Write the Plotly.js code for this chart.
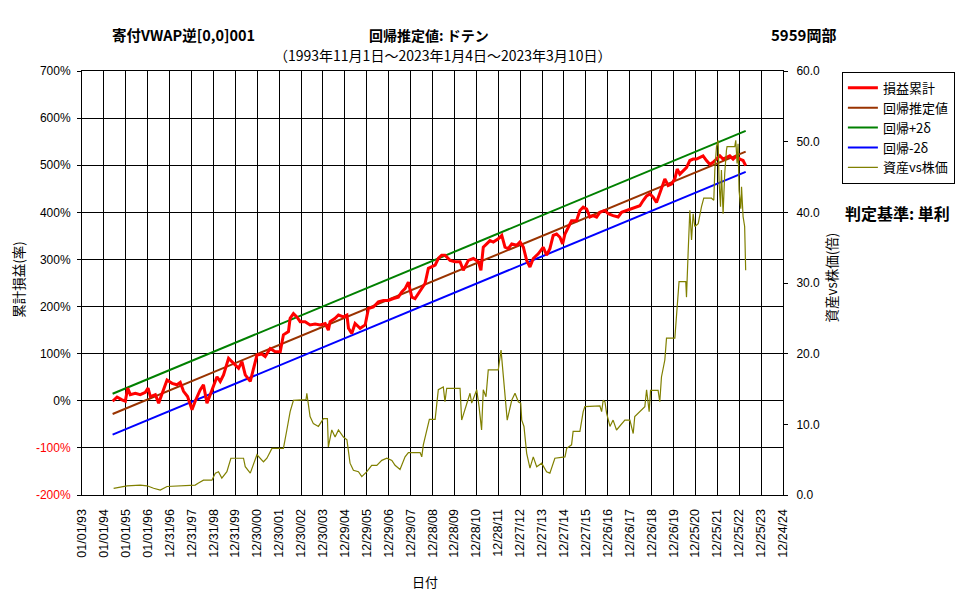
<!DOCTYPE html>
<html>
<head>
<meta charset="utf-8">
<script src="https://cdn.plot.ly/plotly-3.0.1.min.js"></script>
<style>html,body{margin:0;padding:0;background:#fff;}#chart{width:977px;height:600px;}</style>
</head>
<body>
<div id="chart"></div>
<script>
// ---- data ----
const xTickLabels = ["01/01/93","01/01/94","01/01/95","01/01/96","12/31/96","12/31/97","12/31/98","12/31/99","12/30/00","12/30/01","12/30/02","12/30/03","12/29/04","12/29/05","12/29/06","12/29/07","12/28/08","12/28/09","12/28/10","12/28/11","12/27/12","12/27/13","12/27/14","12/27/15","12/26/16","12/26/17","12/26/18","12/26/19","12/25/20","12/25/21","12/25/22","12/25/23","12/24/24"];
const yTickValues = [-200,-100,0,100,200,300,400,500,600,700];
const yTickLabels = ["-200%","-100%","0%","100%","200%","300%","400%","500%","600%","700%"];
const y2TickValues = [0,10,20,30,40,50,60];
const y2TickLabels = ["0.0","10.0","20.0","30.0","40.0","50.0","60.0"];

const seriesNames = ["損益累計","回帰推定値","回帰+2δ","回帰-2δ","資産vs株価"];

const pnlDates = ["1994-05-26","1994-08-08","1994-10-30","1994-12-24","1995-02-02","1995-03-16","1995-06-08","1995-08-30","1995-11-22","1996-01-07","1996-02-14","1996-05-07","1996-07-01","1996-08-26","1996-11-18","1997-02-10","1997-05-02","1997-06-26","1997-08-20","1997-10-26","1998-01-08","1998-03-02","1998-05-24","1998-07-18","1998-09-14","1998-11-08","1999-01-03","1999-02-28","1999-04-23","1999-06-17","1999-09-09","1999-11-04","1999-12-29","2000-02-23","2000-04-19","2000-06-13","2000-09-05","2000-10-29","2000-12-25","2001-03-17","2001-05-11","2001-08-03","2001-10-25","2002-01-17","2002-03-11","2002-06-03","2002-07-01","2002-08-25","2002-10-21","2002-12-15","2003-03-07","2003-05-29","2003-08-21","2003-11-13","2004-02-05","2004-03-29","2004-04-27","2004-07-19","2004-09-13","2004-12-05","2005-02-01","2005-02-27","2005-04-23","2005-06-17","2005-09-09","2005-12-02","2006-01-26","2006-04-18","2006-07-10","2006-10-02","2006-12-24","2007-03-16","2007-06-08","2007-08-04","2007-09-28","2007-11-22","2008-01-18","2008-03-12","2008-05-06","2008-07-02","2008-08-26","2008-10-20","2008-12-16","2009-02-10","2009-04-04","2009-05-30","2009-07-24","2009-10-16","2010-01-08","2010-04-01","2010-05-25","2010-08-17","2010-11-09","2011-02-01","2011-03-15","2011-04-23","2011-06-19","2011-08-13","2011-10-07","2011-12-29","2012-02-25","2012-04-19","2012-06-13","2012-08-09","2012-11-01","2012-12-25","2013-02-19","2013-04-15","2013-06-09","2013-08-03","2013-10-25","2014-01-17","2014-03-13","2014-05-07","2014-07-01","2014-08-27","2014-10-21","2014-12-05","2015-01-13","2015-03-07","2015-05-03","2015-07-25","2015-09-19","2015-11-13","2016-01-09","2016-03-03","2016-04-27","2016-06-23","2016-08-17","2016-11-09","2017-01-03","2017-03-25","2017-06-17","2017-08-13","2017-11-05","2018-01-28","2018-04-20","2018-06-14","2018-08-08","2018-10-04","2018-11-28","2019-01-22","2019-03-18","2019-05-12","2019-07-06","2019-08-04","2019-09-28","2019-11-24","2020-01-18","2020-02-26","2020-04-10","2020-06-04","2020-07-30","2020-09-24","2020-11-18","2021-01-14","2021-03-08","2021-05-02","2021-06-28","2021-08-22","2021-10-16","2021-12-12","2022-02-06","2022-04-01","2022-05-27","2022-07-21","2022-09-14","2022-11-10","2023-01-04","2023-02-28","2023-04-12"];
const pnlValues = [-1,8,2,-1,27,13,16,13,18,27,9,13,-5,13,44,37,34,39,20,9,-19,-1,23,34,-5,13,34,51,41,55,90,83,76,69,83,55,41,69,97,99,94,111,104,104,140,147,175,185,178,168,168,161,163,161,164,150,168,175,182,178,182,154,143,164,154,161,196,199,210,213,213,217,220,231,238,252,220,217,228,238,249,281,284,288,302,309,309,298,295,295,277,298,302,295,277,326,333,340,337,344,351,326,323,333,330,337,326,298,284,302,312,326,309,323,351,354,347,333,354,368,382,382,404,411,407,390,393,390,400,404,397,393,390,400,404,407,411,414,425,435,439,432,421,439,460,471,457,460,471,492,481,488,495,510,513,513,516,520,510,502,506,513,520,513,516,520,513,520,513,510,499];

const regDates = ["1994-05-26","2023-04-12"];
const regValues = [-28, 529];
const upperValues = [15, 573];
const lowerValues = [-72, 486];

const ratioDates = ["1994-06-12","1995-01-22","1995-08-30","1995-12-20","1996-04-08","1996-07-28","1996-11-18","1997-06-26","1998-03-02","1998-04-26","1998-07-18","1998-12-06","1999-02-01","1999-03-25","1999-05-20","1999-08-12","1999-10-18","2000-05-15","2000-06-13","2000-09-05","2000-10-29","2000-12-25","2001-04-13","2001-06-09","2001-09-01","2002-03-11","2002-05-07","2002-07-01","2002-08-25","2003-03-23","2003-04-05","2003-05-01","2003-05-29","2003-07-23","2003-10-15","2004-01-07","2004-03-13","2004-03-29","2004-05-25","2004-07-19","2004-09-13","2004-12-05","2005-02-01","2005-03-25","2005-05-20","2005-08-12","2005-10-07","2005-12-30","2006-03-21","2006-06-14","2006-09-05","2006-11-28","2007-02-20","2007-04-14","2007-07-06","2007-09-28","2007-11-22","2008-06-04","2008-07-02","2008-07-28","2008-09-24","2008-11-06","2009-02-10","2009-04-04","2009-06-26","2009-07-24","2009-08-22","2010-04-01","2010-04-28","2010-06-22","2010-09-14","2010-10-12","2011-01-04","2011-02-12","2011-03-26","2011-04-23","2011-06-07","2011-07-15","2011-12-29","2012-02-13","2012-03-21","2012-05-05","2012-05-26","2012-08-09","2012-10-03","2012-11-27","2013-01-06","2013-01-23","2013-03-01","2013-04-15","2013-06-09","2013-08-03","2013-09-29","2013-12-21","2014-03-13","2014-05-07","2014-07-29","2015-01-13","2015-02-11","2015-05-03","2015-05-29","2015-09-19","2015-11-13","2015-12-11","2016-08-17","2016-09-15","2016-10-11","2016-11-09","2016-12-07","2017-02-01","2017-03-25","2017-05-21","2017-07-15","2017-10-07","2017-12-30","2018-02-23","2018-03-21","2018-05-15","2018-09-05","2018-10-04","2018-11-16","2018-12-09","2019-04-14","2019-05-12","2019-06-09","2019-08-04","2019-09-01","2020-01-18","2020-02-15","2020-03-12","2020-03-28","2020-07-18","2020-07-30","2020-08-26","2020-09-24","2020-10-22","2020-11-18","2020-12-16","2021-02-10","2021-04-06","2021-05-14","2021-09-20","2021-10-28","2021-11-14","2021-12-12","2022-01-08","2022-01-25","2022-02-17","2022-03-04","2022-04-01","2022-04-28","2022-05-27","2022-06-06","2022-10-12","2022-10-29","2022-11-20","2022-12-06","2022-12-23","2023-01-21","2023-02-02","2023-02-28","2023-03-26","2023-04-12"];
const ratioValues = [0.95,1.3,1.4,1.3,0.95,0.7,1.2,1.3,1.4,1.7,2.1,2.1,3.1,3.3,2.4,3.3,5.2,5.2,4.0,3.1,4.5,5.7,4.7,5.2,6.6,6.6,9.2,11.8,13.4,13.5,14.4,13.0,11.1,10.1,9.7,10.8,10.8,6.8,9.2,8.2,9.2,8.2,7.8,4.5,3.5,3.3,2.6,3.3,4.2,4.2,4.9,5.2,4.9,4.2,3.6,5.4,6.0,6.0,5.4,7.1,9.2,10.7,10.7,14.9,15.3,13.2,15.1,15.1,10.6,12.0,14.4,13.0,14.9,12.5,9.2,14.9,13.9,17.7,17.7,20.5,17.2,13.4,10.6,13.4,14.4,13.2,13.0,10.6,9.7,5.9,3.8,5.4,4.0,4.5,3.3,3.1,5.2,5.4,6.6,7.1,9.0,9.0,11.8,12.5,12.6,11.8,13.4,13.2,11.6,9.7,10.6,9.2,9.7,10.6,10.6,8.7,11.1,11.6,12.5,14.9,11.8,14.8,14.8,13.2,16.7,19.1,22.2,22.2,25.7,29.0,30.2,30.2,28.0,34.2,40.3,36.1,39.8,38.0,38.4,40.8,42.0,42.0,41.7,46.0,49.3,50.2,44.1,40.8,46.0,39.8,45.5,48.8,49.3,49.3,50.2,46.9,49.7,43.1,40.5,43.6,39.4,38.0,31.8];

// ---- helpers ----
function tickToDate(s){
  const p = s.split("/");
  const yy = parseInt(p[2],10);
  const yyyy = yy < 50 ? 2000 + yy : 1900 + yy;
  return yyyy + "-" + p[0] + "-" + p[1];
}
const xTickVals = xTickLabels.map(tickToDate);
const yTickText = yTickLabels.map((t,i)=> yTickValues[i] < 0 ? '<span style="color:#ff0000">'+t+'</span>' : t);

const FONT = "'Liberation Sans', Arial, 'Noto Sans CJK JP', sans-serif";
const JFONT = "'Noto Sans CJK JP', 'Liberation Sans', sans-serif";

const traces = [
  {x: regDates, y: upperValues, name: seriesNames[2], type:'scatter', mode:'lines', line:{color:'#008000', width:2}, legendrank:3},
  {x: regDates, y: regValues, name: seriesNames[1], type:'scatter', mode:'lines', line:{color:'#993300', width:2}, legendrank:2},
  {x: regDates, y: lowerValues, name: seriesNames[3], type:'scatter', mode:'lines', line:{color:'#0000ff', width:2}, legendrank:4},
  {x: pnlDates, y: pnlValues, name: seriesNames[0], type:'scatter', mode:'lines', line:{color:'#ff0000', width:3}, legendrank:1},
  {x: ratioDates, y: ratioValues, name: seriesNames[4], type:'scatter', mode:'lines', line:{color:'#808000', width:1.2}, yaxis:'y2', legendrank:5}
];

const layout = {
  width: 977, height: 600,
  margin: {l: 82, r: 194, t: 71, b: 105},
  paper_bgcolor: '#ffffff', plot_bgcolor: '#ffffff',
  font: {family: FONT, size: 12, color: '#000'},
  showlegend: true,
  legend: {x: 1.084, y: 0.998, xanchor:'left', yanchor:'top', bordercolor:'#000', borderwidth:1, bgcolor:'#fff',
           font:{family: JFONT, size: 13}, tracegroupgap: 0, itemwidth: 30},
  xaxis: {
    type: 'date', range: ['1993-01-01','2024-12-24'],
    tickmode: 'array', tickvals: xTickVals, ticktext: xTickLabels, tickangle: -90,
    showgrid: true, gridcolor: '#000', gridwidth: 1,
    showline: true, linecolor: '#000', linewidth: 1, mirror: true,
    ticks: '', ticklabelstandoff: 8, tickfont: {size: 12.5},
    zeroline: false
  },
  yaxis: {
    range: [-200, 700], tickmode:'array', tickvals: yTickValues, ticktext: yTickText,
    showgrid: true, gridcolor: '#000', gridwidth: 1,
    showline: true, linecolor: '#000', linewidth: 1,
    ticks: 'outside', ticklen: 4, tickcolor:'#000', ticklabelstandoff: 4,
    zeroline: false, tickfont:{size:12}
  },
  yaxis2: {
    overlaying: 'y', side: 'right', range: [0, 60],
    tickmode:'array', tickvals: y2TickValues, ticktext: y2TickLabels,
    showgrid: false, showline: true, linecolor:'#000', linewidth:1,
    ticks:'outside', ticklen: 4, tickcolor:'#000', ticklabelstandoff: 6,
    zeroline: false, tickfont:{size:12}
  },
  annotations: [
    {text:'<b>寄付VWAP逆[0,0]001</b>', xref:'paper', yref:'paper', x:0.0406, y:1.085, xanchor:'left', yanchor:'middle', showarrow:false, font:{family:JFONT, size:14.5}},
    {text:'<b>回帰推定値: ドテン</b>', xref:'paper', yref:'paper', x:0.407, y:1.085, xanchor:'left', yanchor:'middle', showarrow:false, font:{family:JFONT, size:14}},
    {text:'<b>5959岡部</b>', xref:'paper', yref:'paper', x:1.078, y:1.085, xanchor:'right', yanchor:'middle', showarrow:false, font:{family:JFONT, size:15}},
    {text:'（1993年11月1日～2023年1月4日～2023年3月10日）', xref:'paper', yref:'paper', x:0.514, y:1.038, xanchor:'center', yanchor:'middle', showarrow:false, font:{family:JFONT, size:14}},
    {text:'<b>判定基準: 単利</b>', xref:'paper', yref:'paper', x:1.0856, y:0.665, xanchor:'left', yanchor:'middle', showarrow:false, font:{family:JFONT, size:16}},
    {text:'日付', xref:'paper', yref:'paper', x:0.49, y:-0.205, xanchor:'center', yanchor:'middle', showarrow:false, font:{family:JFONT, size:13}},
    {text:'累計損益(率)', xref:'paper', yref:'paper', x:-0.0905, y:0.509, xanchor:'center', yanchor:'middle', textangle:-90, showarrow:false, font:{family:JFONT, size:13.5}},
    {text:'資産vs株価(倍)', xref:'paper', yref:'paper', x:1.068, y:0.512, xanchor:'center', yanchor:'middle', textangle:-90, showarrow:false, font:{family:JFONT, size:13.5}}
  ]
};

Plotly.newPlot('chart', traces, layout, {displayModeBar:false, staticPlot:true});
</script>
</body>
</html>
